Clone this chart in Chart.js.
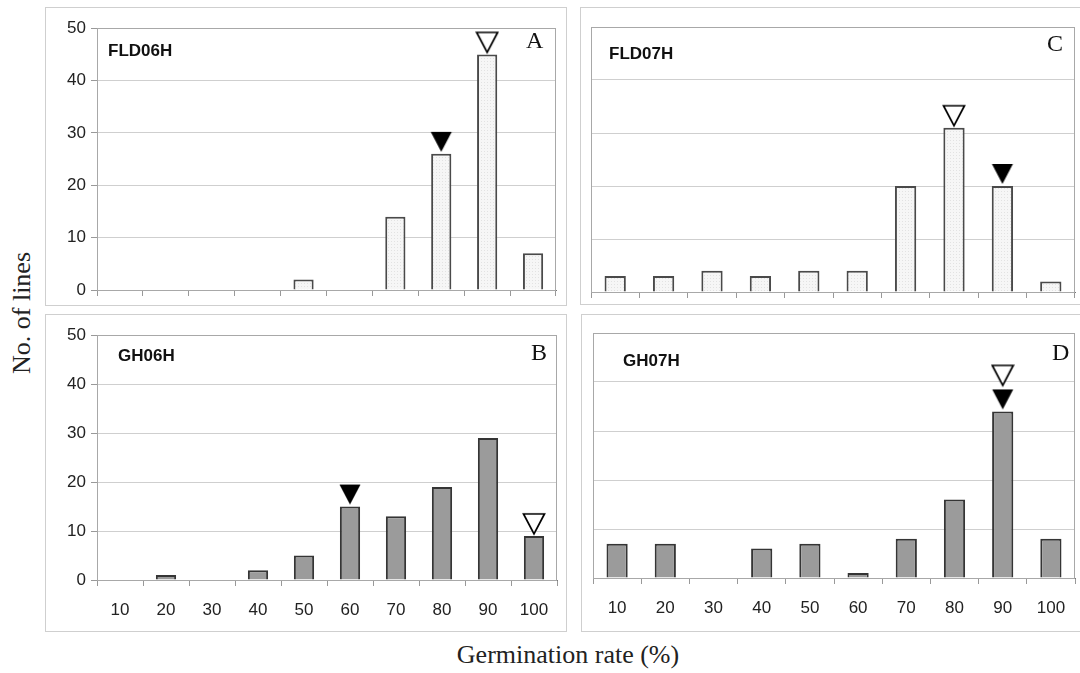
<!DOCTYPE html>
<html><head><meta charset="utf-8">
<script src="https://cdn.jsdelivr.net/npm/chart.js@4.4.0/dist/chart.umd.min.js"></script>
<style>
html,body{margin:0;padding:0;background:#fff;overflow:hidden;width:1080px;height:673px;}
.box{position:absolute;border:1px solid #cfcfcf;box-sizing:border-box;}
.cw{position:absolute;}
.lbl{position:absolute;font-family:"Liberation Sans",Arial,sans-serif;font-weight:bold;font-size:17px;color:#111;line-height:1;white-space:nowrap;}
.let{position:absolute;font-family:"Liberation Serif","Times New Roman",serif;font-size:24px;color:#111;line-height:1;}
.ttl{position:absolute;font-family:"Liberation Serif","Times New Roman",serif;font-size:26px;color:#222;line-height:1;white-space:nowrap;}
</style></head><body>
<div class="box" style="left:45px;top:7px;width:522px;height:299px;"></div>
<div class="box" style="left:45px;top:314px;width:522px;height:318px;"></div>
<div class="box" style="left:580px;top:7px;width:530px;height:298px;"></div>
<div class="box" style="left:581px;top:314px;width:530px;height:318px;"></div>

<div class="cw" style="left:52px;top:13px;"><canvas id="cA" width="511" height="322"></canvas></div>
<div class="cw" style="left:52px;top:320px;"><canvas id="cB" width="512" height="305"></canvas></div>
<div class="cw" style="left:581px;top:17px;"><canvas id="cC" width="501" height="320"></canvas></div>
<div class="cw" style="left:583px;top:323px;"><canvas id="cD" width="499" height="300"></canvas></div>

<div class="lbl" style="left:108px;top:42px;">FLD06H</div>
<div class="let" style="left:526px;top:28px;">A</div>
<div class="lbl" style="left:118px;top:347px;">GH06H</div>
<div class="let" style="left:531px;top:340px;">B</div>
<div class="lbl" style="left:609px;top:45px;">FLD07H</div>
<div class="let" style="left:1047px;top:31px;">C</div>
<div class="lbl" style="left:623px;top:352px;">GH07H</div>
<div class="let" style="left:1052px;top:340px;">D</div>

<div class="ttl" style="left:22px;top:313px;transform:translate(-50%,-50%) rotate(-90deg);">No. of lines</div>
<div class="ttl" style="left:568px;top:655px;transform:translate(-50%,-50%);">Germination rate (%)</div>

<script>
// ---- data ----
const categories = ['10','20','30','40','50','60','70','80','90','100'];
const yTickValues = [0,10,20,30,40,50];
const fld06h = [0,0,0,0,2,0,14,26,45,7];
const gh06h  = [0,1,0,2,5,15,13,19,29,9];
const fld07h = [3,3,4,3,4,4,20,31,20,2];
const gh07h  = [7,7,0,6,7,1,8,16,34,8];
// marker categories per panel A, B, C, D
const filledMarkerCat = ['80','60','90','90'];
const openMarkerCat   = ['90','100','80','90'];

// ---- styles ----
function dotPattern(){
  const c=document.createElement('canvas');c.width=3;c.height=3;
  const x=c.getContext('2d');x.fillStyle='#f6f6f6';x.fillRect(0,0,3,3);
  x.fillStyle='#e2e2e2';x.fillRect(0,0,1,1);
  return x.createPattern(c,'repeat');
}
function tri(filled, lift){
  const w=24,h=21,H=2*(lift+h)+4;
  const c=document.createElement('canvas');c.width=w;c.height=H;
  const x=c.getContext('2d');const tipY=H/2-lift;
  x.beginPath();x.moveTo(1.5,tipY-h+1);x.lineTo(w-1.5,tipY-h+1);x.lineTo(w/2,tipY);x.closePath();
  if(filled){x.fillStyle='#000';x.fill();}
  else{x.fillStyle='#fff';x.fill();x.lineWidth=1.7;x.strokeStyle='#000';x.lineJoin='miter';x.stroke();}
  return c;
}
const frame={id:'frame',beforeDatasetsDraw(chart){
  const a=chart.chartArea,c=chart.ctx;c.save();c.strokeStyle='#a8a8a8';c.lineWidth=1;
  c.strokeRect(Math.round(a.left)+0.5,Math.round(a.top)+0.5,Math.round(a.right-a.left)-1,Math.round(a.bottom-a.top));
  c.restore();}};

function markerData(values, cat){ return categories.map((c,i)=> c===cat ? values[i] : null); }

function makeChart(id, values, light, idx, showY, showX, yW, openLift){
  const datasets=[
    {type:'line',data:markerData(values,filledMarkerCat[idx]),showLine:false,pointStyle:tri(true,2),pointRadius:6,order:0,clip:false},
    {type:'line',data:markerData(values,openMarkerCat[idx]),showLine:false,pointStyle:tri(false,openLift),pointRadius:6,order:0,clip:false},
    {type:'bar',data:values,backgroundColor:light?dotPattern():'#9b9b9b',borderColor:light?'#4a4a4a':'#353535',borderWidth:2,
     categoryPercentage:1,barPercentage:0.44,order:1}
  ];
  new Chart(document.getElementById(id),{
    type:'bar',
    data:{labels:categories,datasets},
    plugins:[frame],
    options:{
      responsive:false,animation:false,devicePixelRatio:1,
      layout:{padding:{top:10,right:6,left:0,bottom:0}},
      plugins:{legend:{display:false},tooltip:{enabled:false}},
      scales:{
        x:{offset:true,
           grid:{display:true,drawOnChartArea:false,drawTicks:true,tickLength:6,color:'#999',offset:true},
           border:{display:true,color:'#777',width:1},
           ticks:{display:showX,padding:14,color:'#222',font:{family:'"Liberation Sans", Arial, sans-serif',size:17}},
           afterFit(s){s.height=45;}},
        y:{min:0,max:50,
           afterBuildTicks(s){s.ticks=yTickValues.map(v=>({value:v}));},
           grid:{color:'#cfcfcf',drawTicks:showY,tickLength:6,tickColor:'#999'},
           border:{display:true,color:'#aaa'},
           ticks:{display:showY,padding:5,color:'#222',font:{family:'"Liberation Sans", Arial, sans-serif',size:17}},
           afterFit(s){s.width=yW;}}
      }
    }
  });
}
makeChart('cA',fld06h,true,0,true,false,45,2);
makeChart('cB',gh06h,false,1,true,true,45,2);
makeChart('cC',fld07h,true,2,false,false,10,2);
makeChart('cD',gh07h,false,3,false,true,10,26);
</script>
</body></html>
